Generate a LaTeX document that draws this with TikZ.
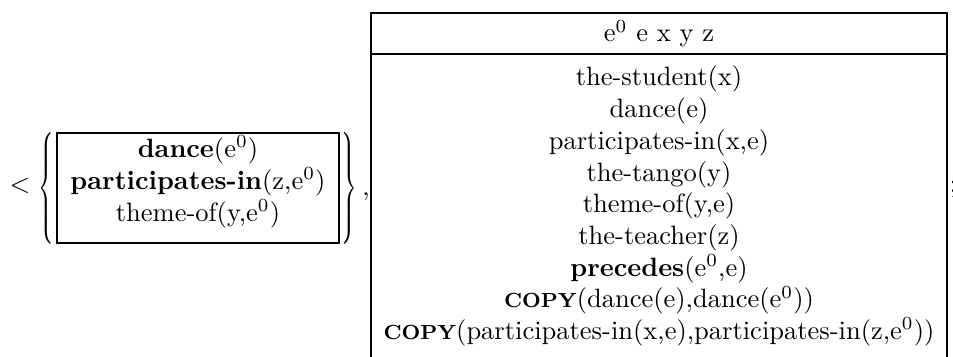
\documentclass[tikz,border=0pt]{standalone}
\newcommand\pxu{0.3774pt}
\newcommand\copyop{\textbf{\fontsize{7.7}{8}\selectfont COPY}}
\newcommand\ez{e$^0$}
% a tall, slim curly brace
\newcommand\slimbrace[2]{\scalebox{0.66}[1]{$\nulldelimiterspace=0pt\left#1\vcenter{\hbox{\rule{0pt}{40pt}}}\right#2$}}
\begin{document}
\begin{tikzpicture}[x=\pxu,y=-\pxu,line width=0.4pt,
  every node/.style={inner sep=0pt,font=\fontsize{10}{12}\selectfont},
  ln/.style={anchor=base},
  brace/.style={inner sep=0pt}]
\useasboundingbox (0,0) rectangle (953,356);

% opening angle bracket
\node[ln] (lt) at (20,192) {$<$};

% the embedded box with its braces
\draw (57,133) rectangle (339,243);
\node[brace] (lb) at (46.5,188.5) {\slimbrace{\{}{.}};
\node[brace] (rb) at (349.5,188.5) {\slimbrace{.}{\}}};
\node[ln] (cm) at (366,195) {,};
\node[ln] (s1) at (198,157) {\textbf{dance}(\ez)};
\node[ln] (s2) at (198,189) {\textbf{participates-in}(z,\ez)};
\node[ln] (s3) at (198,221) {theme-of(y,\ez)};

% main box: header row and open-ended body
\draw (371,370) -- (371,13) -- (947,13) -- (947,370);
\draw (371,54) -- (947,54);
\node[ln] (hd) at (659,42) {\ez\ e x y z};
\node[ln] (r1) at (659,86) {the-student(x)};
\node[ln] (r2) at (659,117.7) {dance(e)};
\node[ln] (r3) at (659,149.4) {participates-in(x,e)};
\node[ln] (r4) at (659,181.1) {the-tango(y)};
\node[ln] (r5) at (659,212.8) {theme-of(y,e)};
\node[ln] (r6) at (659,244.5) {the-teacher(z)};
\node[ln] (r7) at (659,276.2) {\textbf{precedes}(\ez,e)};
\node[ln] (r8) at (659,307.9) {\copyop(dance(e),dance(\ez))};
\node[ln] (r9) at (659,339.6) {\copyop(participates-in(x,e),participates-in(z,\ez))};

% closing semicolon
\node[anchor=base west] (sc) at (949,192) {;};
\end{tikzpicture}
\end{document}
